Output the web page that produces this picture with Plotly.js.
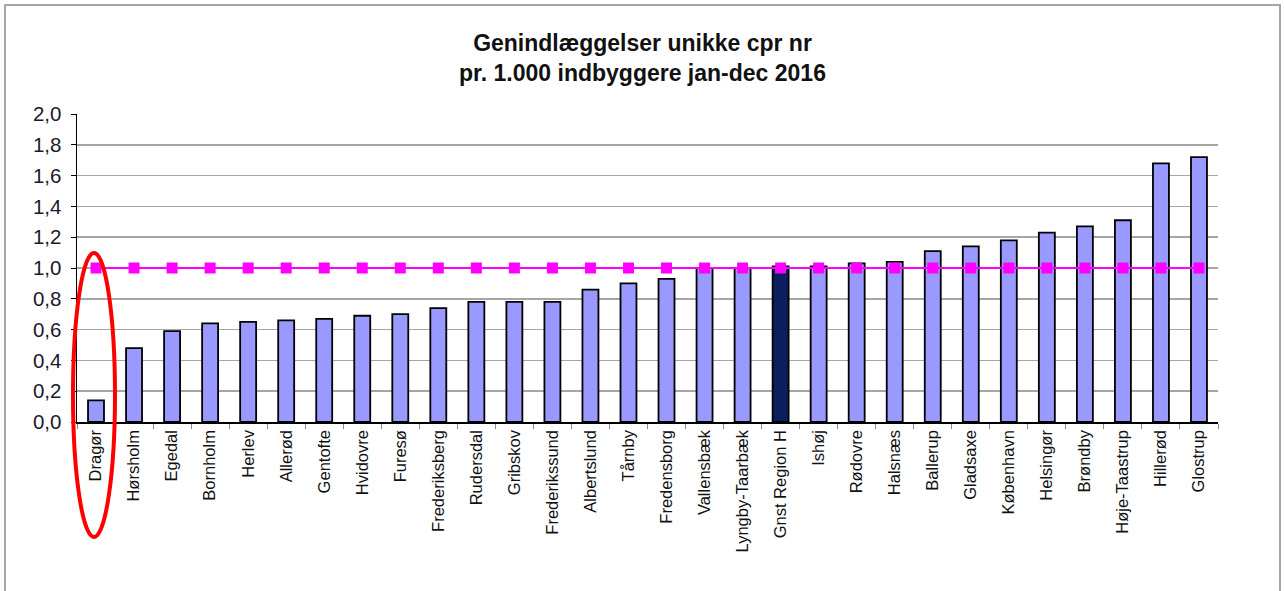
<!DOCTYPE html>
<html>
<head>
<meta charset="utf-8">
<script src="https://cdn.plot.ly/plotly-3.0.1.min.js"></script>
<style>
  html, body { margin: 0; padding: 0; background: #fff; }
  #wrap { position: relative; width: 1285px; height: 591px; overflow: hidden; }
  #chart { width: 1285px; height: 591px; }
  #frame { position: absolute; left: 4px; top: 4px; width: 1277px; height: 700px;
           border: 2px solid #a6a6a6; pointer-events: none; box-sizing: border-box; }
</style>
</head>
<body>
<div id="wrap">
  <div id="chart"></div>
  <div id="frame"></div>
</div>
<script>
const categories = ["Dragør","Hørsholm","Egedal","Bornholm","Herlev","Allerød","Gentofte","Hvidovre","Furesø","Frederiksberg","Rudersdal","Gribskov","Frederikssund","Albertslund","Tårnby","Fredensborg","Vallensbæk","Lyngby-Taarbæk","Gnst Region H","Ishøj","Rødovre","Halsnæs","Ballerup","Gladsaxe","København","Helsingør","Brøndby","Høje-Taastrup","Hillerød","Glostrup"];
const values = [0.14,0.48,0.59,0.64,0.65,0.66,0.67,0.69,0.70,0.74,0.78,0.78,0.78,0.86,0.90,0.93,1.00,1.00,1.01,1.01,1.03,1.04,1.11,1.14,1.18,1.23,1.27,1.31,1.68,1.72];
const referenceValue = 1.0;
const referenceLine = categories.map(() => referenceValue);
const highlightCategory = "Gnst Region H";
const yTicks = [0,0.2,0.4,0.6,0.8,1.0,1.2,1.4,1.6,1.8,2.0];

const barColors = categories.map(c => c === highlightCategory ? "#0b1f5e" : "#9999ff");

const traces = [
  {
    type: "bar",
    x: categories,
    y: values,
    width: 0.42,
    marker: { color: barColors, line: { color: "#000", width: 1.8 } },
    hoverinfo: "x+y"
  },
  {
    type: "scatter",
    mode: "lines+markers",
    x: categories,
    y: referenceLine,
    line: { color: "#ff00ff", width: 2 },
    marker: { symbol: "square", size: 11, color: "#ff00ff" },
    cliponaxis: false
  }
];

const layout = {
  width: 1285,
  height: 591,
  margin: { l: 77, r: 67, t: 114, b: 169 },
  paper_bgcolor: "#fff",
  plot_bgcolor: "#fff",
  separators: ",.",
  showlegend: false,
  font: { family: "Liberation Sans, Arial, sans-serif", color: "#1a1a2e" },
  title: {
    text: "Genindlæggelser unikke cpr nr<br>pr. 1.000 indbyggere jan-dec 2016",
    font: { size: 23, color: "#111", family: "Liberation Sans, Arial, sans-serif", weight: "bold" },
    x: 0.5, xanchor: "center",
    y: 0.913, yanchor: "middle"
  },
  xaxis: {
    type: "category",
    tickangle: -90,
    tickfont: { size: 16.5, color: "#111" },
    showline: true, linecolor: "#000", linewidth: 1.5,
    ticks: "outside", tickson: "boundaries", ticklen: 5, tickcolor: "#888",
    showgrid: false,
    range: [-0.5, categories.length - 0.5]
  },
  yaxis: {
    range: [0, 2.0],
    tickvals: yTicks,
    tickformat: ".1f",
    tickfont: { size: 20.5, color: "#1a1a2e" },
    ticklabelstandoff: 5,
    showline: true, linecolor: "#000", linewidth: 1.5,
    ticks: "outside", ticklen: 5, tickcolor: "#000",
    showgrid: true, gridcolor: "#a6a6a6", gridwidth: 1.5,
    zeroline: false
  },
  shapes: [
    {
      type: "line", xref: "paper", yref: "y",
      x0: 0, x1: 1, y0: referenceValue, y1: referenceValue,
      line: { color: "#ff00ff", width: 2 }, layer: "below"
    },
    {
      type: "circle", xref: "paper", yref: "paper",
      x0: -0.0035, x1: 0.0333, y0: -0.373, y1: 0.549,
      line: { color: "#ff0000", width: 4 }
    }
  ]
};

Plotly.newPlot("chart", traces, layout, { displayModeBar: false, staticPlot: true });
</script>
</body>
</html>
